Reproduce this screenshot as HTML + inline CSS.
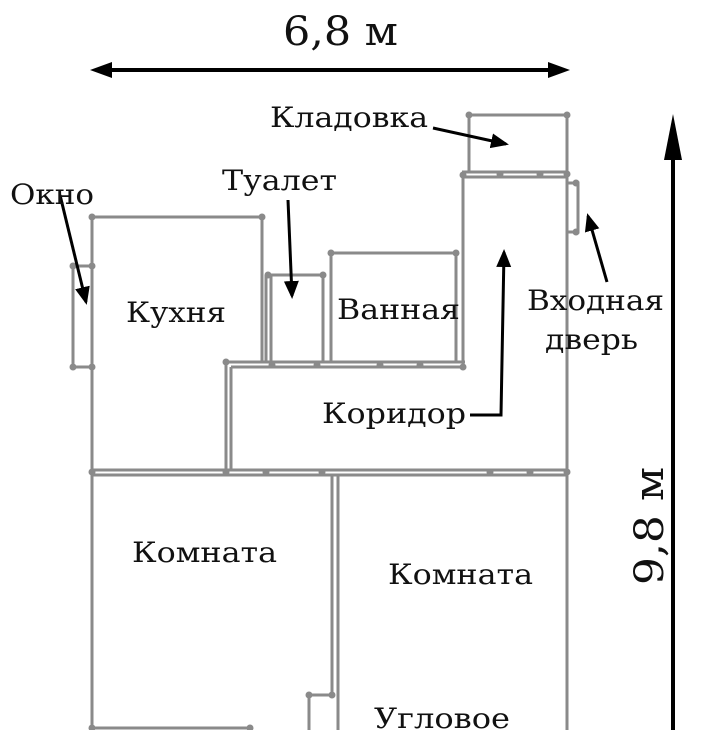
<!DOCTYPE html>
<html><head><meta charset="utf-8"><style>
html,body{margin:0;padding:0;background:#fff;width:720px;height:730px;overflow:hidden}
text{font-family:"DejaVu Serif Condensed","DejaVu Serif","Liberation Serif",serif;fill:#111}
</style></head><body>
<svg width="720" height="730" viewBox="0 0 720 730" xmlns="http://www.w3.org/2000/svg">
<defs>
<marker id="ah" markerWidth="6" markerHeight="6" refX="5" refY="3" orient="auto" markerUnits="strokeWidth">
<path d="M0,0.5 L6,3 L0,5.5 z" fill="#000"/></marker>
</defs>
<g stroke="#8a8a8a" stroke-width="3" fill="none">
<polyline points="92,730 92,217 262,217 262,362"/>
<rect x="73" y="266" width="19" height="101"/>
<line x1="266" y1="275" x2="266" y2="362"/>
<polyline points="271,362 271,275 323,275 323,362"/>
<polyline points="331,362 331,253 456,253 456,362"/>
<line x1="226" y1="362" x2="465" y2="362"/>
<line x1="231" y1="367" x2="465" y2="367"/>
<line x1="226" y1="362" x2="226" y2="470"/>
<line x1="231" y1="367" x2="231" y2="470"/>
<line x1="463" y1="175" x2="463" y2="367"/>
<polyline points="469,172 469,115 567,115"/>
<line x1="462" y1="172" x2="568" y2="172"/>
<line x1="462" y1="177" x2="568" y2="177"/>
<line x1="567" y1="115" x2="567" y2="730"/>
<rect x="567" y="183" width="11" height="49"/>
<line x1="92" y1="470" x2="567" y2="470"/>
<line x1="92" y1="475" x2="567" y2="475"/>
<line x1="332" y1="475" x2="332" y2="695"/>
<line x1="338" y1="475" x2="338" y2="730"/>
<polyline points="332,695 309,695 309,730"/>
<line x1="92" y1="728" x2="250" y2="728"/>
</g>
<g fill="#8a8a8a">
<circle cx="92" cy="217" r="3.5"/><circle cx="262" cy="217" r="3.5"/><circle cx="73" cy="266" r="3.5"/><circle cx="73" cy="367" r="3.5"/><circle cx="92" cy="367" r="3.5"/><circle cx="92" cy="266" r="3.5"/>
<circle cx="268" cy="275" r="3.5"/><circle cx="323" cy="275" r="3.5"/><circle cx="331" cy="253" r="3.5"/><circle cx="456" cy="253" r="3.5"/>
<circle cx="226" cy="362" r="3.5"/><circle cx="272" cy="365" r="3.5"/><circle cx="317" cy="365" r="3.5"/><circle cx="380" cy="365" r="3.5"/><circle cx="420" cy="365" r="3.5"/><circle cx="463" cy="367" r="3.5"/><circle cx="463" cy="175" r="3.5"/>
<circle cx="469" cy="115" r="3.5"/><circle cx="567" cy="115" r="3.5"/><circle cx="500" cy="174" r="3.5"/><circle cx="540" cy="174" r="3.5"/><circle cx="567" cy="174" r="3.5"/><circle cx="576" cy="183" r="3.5"/><circle cx="576" cy="232" r="3.5"/>
<circle cx="92" cy="472" r="3.5"/><circle cx="226" cy="472" r="3.5"/><circle cx="266" cy="472" r="3.5"/><circle cx="322" cy="472" r="3.5"/><circle cx="490" cy="472" r="3.5"/><circle cx="530" cy="472" r="3.5"/><circle cx="567" cy="472" r="3.5"/>
<circle cx="309" cy="695" r="3.5"/><circle cx="332" cy="695" r="3.5"/><circle cx="92" cy="728" r="3.5"/><circle cx="250" cy="728" r="3.5"/>
</g>
<g stroke="#000" stroke-width="4" fill="none">
<line x1="100" y1="70" x2="560" y2="70"/>
<line x1="673" y1="140" x2="673" y2="730"/>
</g>
<path d="M90,70 L112,62 L112,78 z" fill="#000"/>
<path d="M570,70 L548,62 L548,78 z" fill="#000"/>
<path d="M673,114 L664,160 L682,160 z" fill="#000"/>
<g stroke="#000" stroke-width="3" fill="none" marker-end="url(#ah)">
<line x1="60" y1="195" x2="86" y2="302"/>
<line x1="288" y1="200" x2="292" y2="296"/>
<line x1="433" y1="128" x2="506" y2="144"/>
<line x1="607" y1="282" x2="588" y2="216"/>
<polyline points="470,415 501,415 504,252"/>
</g>
<text x="283" y="45" font-size="40" textLength="115" lengthAdjust="spacingAndGlyphs">6,8 м</text>
<text transform="translate(663,585) rotate(-90)" font-size="40" textLength="118" lengthAdjust="spacingAndGlyphs">9,8 м</text>
<g font-size="28">
<text x="10" y="204" textLength="84" lengthAdjust="spacingAndGlyphs">Окно</text>
<text x="222" y="190" textLength="115" lengthAdjust="spacingAndGlyphs">Туалет</text>
<text x="270" y="127" textLength="158" lengthAdjust="spacingAndGlyphs">Кладовка</text>
<text x="126" y="322" textLength="100" lengthAdjust="spacingAndGlyphs">Кухня</text>
<text x="337" y="319" textLength="123" lengthAdjust="spacingAndGlyphs">Ванная</text>
<text x="527" y="310" textLength="137" lengthAdjust="spacingAndGlyphs">Входная</text>
<text x="545" y="349" textLength="93" lengthAdjust="spacingAndGlyphs">дверь</text>
<text x="322" y="423" textLength="144" lengthAdjust="spacingAndGlyphs">Коридор</text>
<text x="132" y="562" textLength="145" lengthAdjust="spacingAndGlyphs">Комната</text>
<text x="388" y="584" textLength="145" lengthAdjust="spacingAndGlyphs">Комната</text>
<text x="374" y="728" textLength="136" lengthAdjust="spacingAndGlyphs">Угловое</text>
</g>
</svg>
</body></html>
